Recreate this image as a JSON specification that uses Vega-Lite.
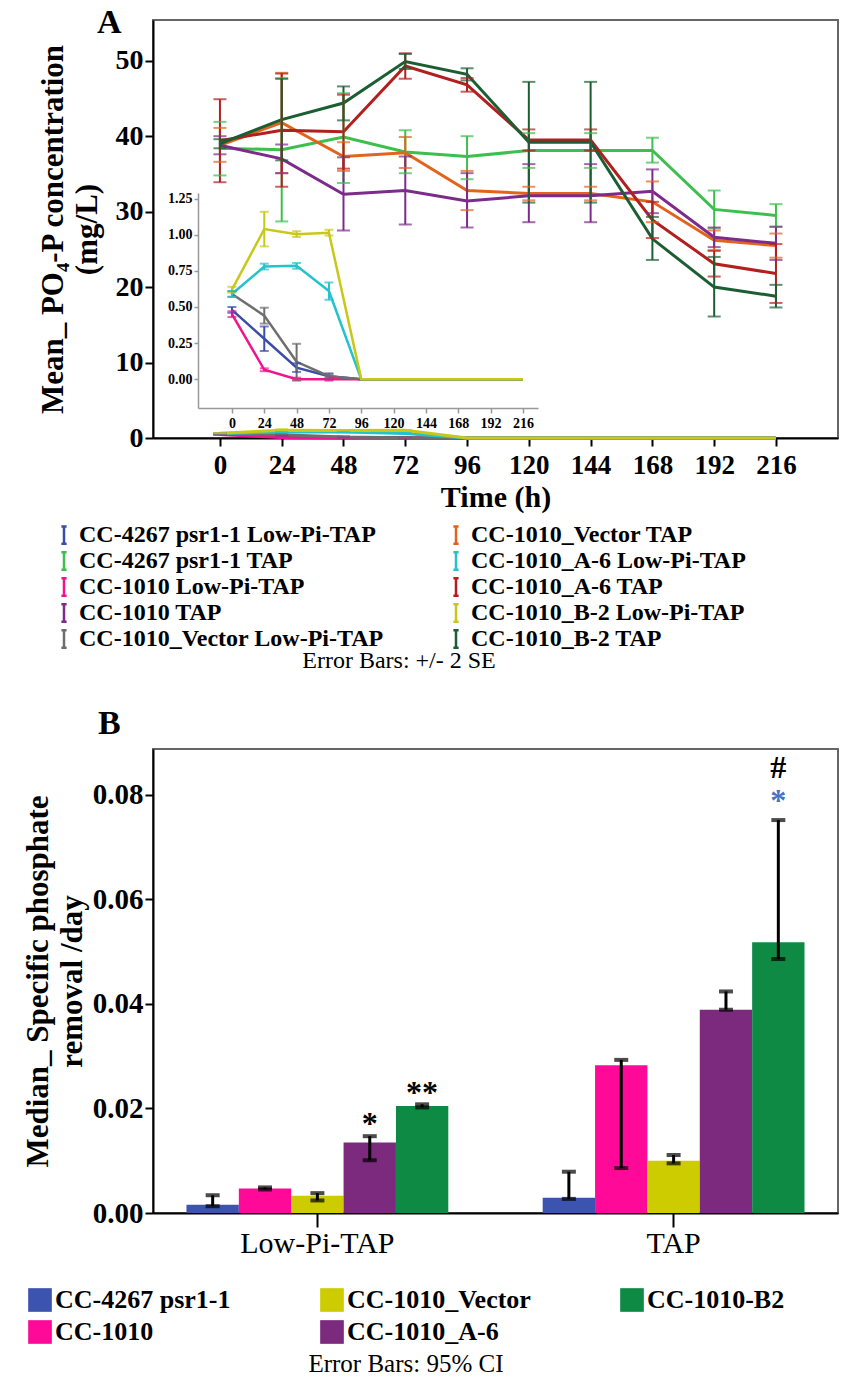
{
 "$schema": "https://vega.github.io/schema/vega-lite/v6.json",
 "background": "white",
 "padding": {"left": 21, "top": 5, "right": 2, "bottom": 2},
 "spacing": 32,
 "resolve": {"scale": {"color": "independent"}, "legend": {"color": "independent"}},
 "config": {
  "font": "Liberation Serif",
  "view": {"stroke": "#666", "strokeWidth": 2},
  "axis": {"domainColor": "#000", "domainWidth": 2, "tickColor": "#000", "tickWidth": 2, "labelColor": "#000", "titleColor": "#000", "labelFont": "Liberation Serif", "titleFont": "Liberation Serif", "grid": false},
  "legend": {"labelFont": "Liberation Serif", "titleFont": "Liberation Serif", "labelColor": "#000", "titleColor": "#000", "labelLimit": 700, "titleLimit": 800, "symbolOpacity": 1}
 },
 "datasets": {
  "ts": [
   {"s": "CC-4267 psr1-1 TAP", "g": "TAP", "t": 0, "m": 38.4, "lo": 34.8, "hi": 41.9},
   {"s": "CC-4267 psr1-1 TAP", "g": "TAP", "t": 24, "m": 38.2, "lo": 28.7, "hi": 47.7},
   {"s": "CC-4267 psr1-1 TAP", "g": "TAP", "t": 48, "m": 39.9, "lo": 33.8, "hi": 45.7},
   {"s": "CC-4267 psr1-1 TAP", "g": "TAP", "t": 72, "m": 37.9, "lo": 35.1, "hi": 40.8},
   {"s": "CC-4267 psr1-1 TAP", "g": "TAP", "t": 96, "m": 37.3, "lo": 34.3, "hi": 40.0},
   {"s": "CC-4267 psr1-1 TAP", "g": "TAP", "t": 120, "m": 38.1, "lo": 35.8, "hi": 40.4},
   {"s": "CC-4267 psr1-1 TAP", "g": "TAP", "t": 144, "m": 38.1, "lo": 35.8, "hi": 40.4},
   {"s": "CC-4267 psr1-1 TAP", "g": "TAP", "t": 168, "m": 38.1, "lo": 36.5, "hi": 39.8},
   {"s": "CC-4267 psr1-1 TAP", "g": "TAP", "t": 192, "m": 30.3, "lo": 27.8, "hi": 32.8},
   {"s": "CC-4267 psr1-1 TAP", "g": "TAP", "t": 216, "m": 29.5, "lo": 28.0, "hi": 31.0},
   {"s": "CC-1010_Vector TAP", "g": "TAP", "t": 0, "m": 38.8, "lo": 36.6, "hi": 41.1},
   {"s": "CC-1010_Vector TAP", "g": "TAP", "t": 24, "m": 41.8, "lo": 35.1, "hi": 48.4},
   {"s": "CC-1010_Vector TAP", "g": "TAP", "t": 48, "m": 37.3, "lo": 35.4, "hi": 39.2},
   {"s": "CC-1010_Vector TAP", "g": "TAP", "t": 72, "m": 37.8, "lo": 35.8, "hi": 39.9},
   {"s": "CC-1010_Vector TAP", "g": "TAP", "t": 96, "m": 32.8, "lo": 30.2, "hi": 35.4},
   {"s": "CC-1010_Vector TAP", "g": "TAP", "t": 120, "m": 32.4, "lo": 31.5, "hi": 33.3},
   {"s": "CC-1010_Vector TAP", "g": "TAP", "t": 144, "m": 32.4, "lo": 31.5, "hi": 33.3},
   {"s": "CC-1010_Vector TAP", "g": "TAP", "t": 168, "m": 31.3, "lo": 28.6, "hi": 34.0},
   {"s": "CC-1010_Vector TAP", "g": "TAP", "t": 192, "m": 26.2, "lo": 24.9, "hi": 27.5},
   {"s": "CC-1010_Vector TAP", "g": "TAP", "t": 216, "m": 25.5, "lo": 23.9, "hi": 27.1},
   {"s": "CC-1010 TAP", "g": "TAP", "t": 0, "m": 38.8, "lo": 37.6, "hi": 40.0},
   {"s": "CC-1010 TAP", "g": "TAP", "t": 24, "m": 37.0, "lo": 35.1, "hi": 38.9},
   {"s": "CC-1010 TAP", "g": "TAP", "t": 48, "m": 32.3, "lo": 27.5, "hi": 37.2},
   {"s": "CC-1010 TAP", "g": "TAP", "t": 72, "m": 32.8, "lo": 28.3, "hi": 37.3},
   {"s": "CC-1010 TAP", "g": "TAP", "t": 96, "m": 31.4, "lo": 27.9, "hi": 35.1},
   {"s": "CC-1010 TAP", "g": "TAP", "t": 120, "m": 32.1, "lo": 28.6, "hi": 36.3},
   {"s": "CC-1010 TAP", "g": "TAP", "t": 144, "m": 32.1, "lo": 28.6, "hi": 36.3},
   {"s": "CC-1010 TAP", "g": "TAP", "t": 168, "m": 32.7, "lo": 29.8, "hi": 35.6},
   {"s": "CC-1010 TAP", "g": "TAP", "t": 192, "m": 26.6, "lo": 25.3, "hi": 27.9},
   {"s": "CC-1010 TAP", "g": "TAP", "t": 216, "m": 25.8, "lo": 23.6, "hi": 28.0},
   {"s": "CC-1010_A-6 TAP", "g": "TAP", "t": 0, "m": 39.4, "lo": 33.9, "hi": 44.9},
   {"s": "CC-1010_A-6 TAP", "g": "TAP", "t": 24, "m": 40.8, "lo": 33.3, "hi": 48.3},
   {"s": "CC-1010_A-6 TAP", "g": "TAP", "t": 48, "m": 40.6, "lo": 35.7, "hi": 45.5},
   {"s": "CC-1010_A-6 TAP", "g": "TAP", "t": 72, "m": 49.3, "lo": 47.6, "hi": 51.0},
   {"s": "CC-1010_A-6 TAP", "g": "TAP", "t": 96, "m": 46.8, "lo": 45.9, "hi": 47.7},
   {"s": "CC-1010_A-6 TAP", "g": "TAP", "t": 120, "m": 39.5, "lo": 38.1, "hi": 40.9},
   {"s": "CC-1010_A-6 TAP", "g": "TAP", "t": 144, "m": 39.5, "lo": 38.1, "hi": 40.9},
   {"s": "CC-1010_A-6 TAP", "g": "TAP", "t": 168, "m": 28.9, "lo": 26.5, "hi": 31.3},
   {"s": "CC-1010_A-6 TAP", "g": "TAP", "t": 192, "m": 23.1, "lo": 21.4, "hi": 24.8},
   {"s": "CC-1010_A-6 TAP", "g": "TAP", "t": 216, "m": 21.8, "lo": 17.9, "hi": 25.7},
   {"s": "CC-1010_B-2 TAP", "g": "TAP", "t": 0, "m": 39.0, "lo": 38.4, "hi": 39.6},
   {"s": "CC-1010_B-2 TAP", "g": "TAP", "t": 24, "m": 42.2, "lo": 36.8, "hi": 47.6},
   {"s": "CC-1010_B-2 TAP", "g": "TAP", "t": 48, "m": 44.4, "lo": 42.1, "hi": 46.6},
   {"s": "CC-1010_B-2 TAP", "g": "TAP", "t": 72, "m": 49.9, "lo": 48.9, "hi": 50.9},
   {"s": "CC-1010_B-2 TAP", "g": "TAP", "t": 96, "m": 48.2, "lo": 47.4, "hi": 49.0},
   {"s": "CC-1010_B-2 TAP", "g": "TAP", "t": 120, "m": 39.2, "lo": 31.2, "hi": 47.2},
   {"s": "CC-1010_B-2 TAP", "g": "TAP", "t": 144, "m": 39.2, "lo": 31.2, "hi": 47.2},
   {"s": "CC-1010_B-2 TAP", "g": "TAP", "t": 168, "m": 26.4, "lo": 23.6, "hi": 29.3},
   {"s": "CC-1010_B-2 TAP", "g": "TAP", "t": 192, "m": 20.0, "lo": 16.1, "hi": 24.0},
   {"s": "CC-1010_B-2 TAP", "g": "TAP", "t": 216, "m": 18.8, "lo": 17.3, "hi": 20.3},
   {"s": "CC-4267 psr1-1 Low-Pi-TAP", "g": "Low", "t": 0, "m": 0.48, "lo": 0.46, "hi": 0.50},
   {"s": "CC-4267 psr1-1 Low-Pi-TAP", "g": "Low", "t": 24, "m": 0.28, "lo": 0.195, "hi": 0.365},
   {"s": "CC-4267 psr1-1 Low-Pi-TAP", "g": "Low", "t": 48, "m": 0.08, "lo": 0.05, "hi": 0.11},
   {"s": "CC-4267 psr1-1 Low-Pi-TAP", "g": "Low", "t": 72, "m": 0.02, "lo": 0.0, "hi": 0.04},
   {"s": "CC-4267 psr1-1 Low-Pi-TAP", "g": "Low", "t": 96, "m": 0, "lo": null, "hi": null},
   {"s": "CC-4267 psr1-1 Low-Pi-TAP", "g": "Low", "t": 120, "m": 0, "lo": null, "hi": null},
   {"s": "CC-4267 psr1-1 Low-Pi-TAP", "g": "Low", "t": 144, "m": 0, "lo": null, "hi": null},
   {"s": "CC-4267 psr1-1 Low-Pi-TAP", "g": "Low", "t": 168, "m": 0, "lo": null, "hi": null},
   {"s": "CC-4267 psr1-1 Low-Pi-TAP", "g": "Low", "t": 192, "m": 0, "lo": null, "hi": null},
   {"s": "CC-4267 psr1-1 Low-Pi-TAP", "g": "Low", "t": 216, "m": 0, "lo": null, "hi": null},
   {"s": "CC-1010 Low-Pi-TAP", "g": "Low", "t": 0, "m": 0.45, "lo": 0.43, "hi": 0.47},
   {"s": "CC-1010 Low-Pi-TAP", "g": "Low", "t": 24, "m": 0.065, "lo": 0.055, "hi": 0.075},
   {"s": "CC-1010 Low-Pi-TAP", "g": "Low", "t": 48, "m": 0.0, "lo": -0.01, "hi": 0.01},
   {"s": "CC-1010 Low-Pi-TAP", "g": "Low", "t": 72, "m": 0.0, "lo": -0.01, "hi": 0.01},
   {"s": "CC-1010 Low-Pi-TAP", "g": "Low", "t": 96, "m": 0, "lo": null, "hi": null},
   {"s": "CC-1010 Low-Pi-TAP", "g": "Low", "t": 120, "m": 0, "lo": null, "hi": null},
   {"s": "CC-1010 Low-Pi-TAP", "g": "Low", "t": 144, "m": 0, "lo": null, "hi": null},
   {"s": "CC-1010 Low-Pi-TAP", "g": "Low", "t": 168, "m": 0, "lo": null, "hi": null},
   {"s": "CC-1010 Low-Pi-TAP", "g": "Low", "t": 192, "m": 0, "lo": null, "hi": null},
   {"s": "CC-1010 Low-Pi-TAP", "g": "Low", "t": 216, "m": 0, "lo": null, "hi": null},
   {"s": "CC-1010_Vector Low-Pi-TAP", "g": "Low", "t": 0, "m": 0.59, "lo": 0.57, "hi": 0.61},
   {"s": "CC-1010_Vector Low-Pi-TAP", "g": "Low", "t": 24, "m": 0.44, "lo": 0.385, "hi": 0.495},
   {"s": "CC-1010_Vector Low-Pi-TAP", "g": "Low", "t": 48, "m": 0.12, "lo": -0.005, "hi": 0.245},
   {"s": "CC-1010_Vector Low-Pi-TAP", "g": "Low", "t": 72, "m": 0.02, "lo": 0.005, "hi": 0.035},
   {"s": "CC-1010_Vector Low-Pi-TAP", "g": "Low", "t": 96, "m": 0, "lo": null, "hi": null},
   {"s": "CC-1010_Vector Low-Pi-TAP", "g": "Low", "t": 120, "m": 0, "lo": null, "hi": null},
   {"s": "CC-1010_Vector Low-Pi-TAP", "g": "Low", "t": 144, "m": 0, "lo": null, "hi": null},
   {"s": "CC-1010_Vector Low-Pi-TAP", "g": "Low", "t": 168, "m": 0, "lo": null, "hi": null},
   {"s": "CC-1010_Vector Low-Pi-TAP", "g": "Low", "t": 192, "m": 0, "lo": null, "hi": null},
   {"s": "CC-1010_Vector Low-Pi-TAP", "g": "Low", "t": 216, "m": 0, "lo": null, "hi": null},
   {"s": "CC-1010_A-6 Low-Pi-TAP", "g": "Low", "t": 0, "m": 0.59, "lo": 0.57, "hi": 0.61},
   {"s": "CC-1010_A-6 Low-Pi-TAP", "g": "Low", "t": 24, "m": 0.78, "lo": 0.76, "hi": 0.80},
   {"s": "CC-1010_A-6 Low-Pi-TAP", "g": "Low", "t": 48, "m": 0.785, "lo": 0.765, "hi": 0.805},
   {"s": "CC-1010_A-6 Low-Pi-TAP", "g": "Low", "t": 72, "m": 0.61, "lo": 0.55, "hi": 0.67},
   {"s": "CC-1010_A-6 Low-Pi-TAP", "g": "Low", "t": 96, "m": 0, "lo": null, "hi": null},
   {"s": "CC-1010_A-6 Low-Pi-TAP", "g": "Low", "t": 120, "m": 0, "lo": null, "hi": null},
   {"s": "CC-1010_A-6 Low-Pi-TAP", "g": "Low", "t": 144, "m": 0, "lo": null, "hi": null},
   {"s": "CC-1010_A-6 Low-Pi-TAP", "g": "Low", "t": 168, "m": 0, "lo": null, "hi": null},
   {"s": "CC-1010_A-6 Low-Pi-TAP", "g": "Low", "t": 192, "m": 0, "lo": null, "hi": null},
   {"s": "CC-1010_A-6 Low-Pi-TAP", "g": "Low", "t": 216, "m": 0, "lo": null, "hi": null},
   {"s": "CC-1010_B-2 Low-Pi-TAP", "g": "Low", "t": 0, "m": 0.62, "lo": 0.60, "hi": 0.64},
   {"s": "CC-1010_B-2 Low-Pi-TAP", "g": "Low", "t": 24, "m": 1.04, "lo": 0.92, "hi": 1.16},
   {"s": "CC-1010_B-2 Low-Pi-TAP", "g": "Low", "t": 48, "m": 1.005, "lo": 0.985, "hi": 1.025},
   {"s": "CC-1010_B-2 Low-Pi-TAP", "g": "Low", "t": 72, "m": 1.015, "lo": 0.995, "hi": 1.035},
   {"s": "CC-1010_B-2 Low-Pi-TAP", "g": "Low", "t": 96, "m": 0, "lo": null, "hi": null},
   {"s": "CC-1010_B-2 Low-Pi-TAP", "g": "Low", "t": 120, "m": 0, "lo": null, "hi": null},
   {"s": "CC-1010_B-2 Low-Pi-TAP", "g": "Low", "t": 144, "m": 0, "lo": null, "hi": null},
   {"s": "CC-1010_B-2 Low-Pi-TAP", "g": "Low", "t": 168, "m": 0, "lo": null, "hi": null},
   {"s": "CC-1010_B-2 Low-Pi-TAP", "g": "Low", "t": 192, "m": 0, "lo": null, "hi": null},
   {"s": "CC-1010_B-2 Low-Pi-TAP", "g": "Low", "t": 216, "m": 0, "lo": null, "hi": null}
  ],
  "bars": [
   {"cond": "Low-Pi-TAP", "strain": "CC-4267 psr1-1", "med": 0.0016, "lo": 0.0013, "hi": 0.0034},
   {"cond": "Low-Pi-TAP", "strain": "CC-1010", "med": 0.0047, "lo": 0.0045, "hi": 0.0049},
   {"cond": "Low-Pi-TAP", "strain": "CC-1010_Vector", "med": 0.0033, "lo": 0.0024, "hi": 0.0038},
   {"cond": "Low-Pi-TAP", "strain": "CC-1010_A-6", "med": 0.0135, "lo": 0.0101, "hi": 0.0147},
   {"cond": "Low-Pi-TAP", "strain": "CC-1010-B2", "med": 0.0205, "lo": 0.0202, "hi": 0.0208},
   {"cond": "TAP", "strain": "CC-4267 psr1-1", "med": 0.0029, "lo": 0.0027, "hi": 0.0079},
   {"cond": "TAP", "strain": "CC-1010", "med": 0.0283, "lo": 0.0086, "hi": 0.0293},
   {"cond": "TAP", "strain": "CC-1010_Vector", "med": 0.0100, "lo": 0.0095, "hi": 0.0111},
   {"cond": "TAP", "strain": "CC-1010_A-6", "med": 0.0389, "lo": 0.0389, "hi": 0.0424},
   {"cond": "TAP", "strain": "CC-1010-B2", "med": 0.0518, "lo": 0.0486, "hi": 0.0752}
  ],
  "ann": [
   {"cond": "Low-Pi-TAP", "strain": "CC-1010_A-6", "label": "*", "pos": 0.0152, "col": "#000000"},
   {"cond": "Low-Pi-TAP", "strain": "CC-1010-B2", "label": "**", "pos": 0.0210, "col": "#000000"},
   {"cond": "TAP", "strain": "CC-1010-B2", "label": "#", "pos": 0.0833, "col": "#000000"},
   {"cond": "TAP", "strain": "CC-1010-B2", "label": "*", "pos": 0.0769, "col": "#4472C4"}
  ]
 },
 "vconcat": [
  {
   "width": 685, "height": 418,
   "title": {"text": "A", "anchor": "start", "frame": "group", "dx": -56, "offset": -20, "fontSize": 34, "fontWeight": "bold", "font": "Liberation Serif", "color": "#000"},
   "data": {"name": "ts"},
   "layer": [
    {
     "encoding": {
      "x": {"field": "t", "type": "quantitative", "scale": {"domain": [-26, 240.1], "nice": false, "zero": false},
            "axis": {"values": [0, 24, 48, 72, 96, 120, 144, 168, 192, 216], "title": "Time (h)", "labelFontSize": 27, "labelFontWeight": "bold", "titleFontSize": 30, "titleFontWeight": "bold", "tickSize": 8, "titlePadding": 4, "labelPadding": 6}},
      "color": {"field": "s", "type": "nominal",
        "scale": {"domain": ["CC-4267 psr1-1 Low-Pi-TAP", "CC-4267 psr1-1 TAP", "CC-1010 Low-Pi-TAP", "CC-1010 TAP", "CC-1010_Vector Low-Pi-TAP", "CC-1010_Vector TAP", "CC-1010_A-6 Low-Pi-TAP", "CC-1010_A-6 TAP", "CC-1010_B-2 Low-Pi-TAP", "CC-1010_B-2 TAP"],
                  "range": ["#3A4DA8", "#3CBF4C", "#F0158E", "#7D2B8B", "#6E6E6E", "#E2641C", "#23C3CB", "#B21F1F", "#C9C818", "#1B5E33"]},
        "legend": {"orient": "none", "legendX": -101, "legendY": 503, "columns": 2, "gridAlign": "each",
                   "title": "Error Bars: +/- 2 SE", "titleOrient": "bottom", "titleAnchor": "middle", "titleFontSize": 24, "titleFontWeight": "normal", "titlePadding": -4,
                   "labelFontSize": 24, "labelFontWeight": "bold", "labelOffset": 3,
                   "symbolType": "M-0.3,-1H0.3M0,-1V1M-0.3,1H0.3", "symbolSize": 300, "symbolStrokeWidth": 2.5, "symbolFillColor": "transparent", "symbolOpacity": 1,
                   "rowPadding": -4, "columnPadding": 60}}
     },
     "layer": [
      {"mark": {"type": "line", "strokeWidth": 3}, "encoding": {"y": {"field": "m", "type": "quantitative", "title": ["Mean_ PO₄-P concentration", "(mg/L)"], "scale": {"domain": [0, 55.4], "nice": false, "zero": false},
          "axis": {"values": [0, 10, 20, 30, 40, 50], "labelFontSize": 28, "labelFontWeight": "bold", "titleFontSize": 31, "titleFontWeight": "bold", "titleLineHeight": 34, "tickSize": 8, "titlePadding": 12}}}},
      {"transform": [{"filter": "datum.lo != null"}], "mark": {"type": "rule", "strokeWidth": 2}, "encoding": {"y": {"field": "lo", "type": "quantitative", "title": ["Mean_ PO₄-P concentration", "(mg/L)"]}, "y2": {"field": "hi"}}},
      {"transform": [{"filter": "datum.lo != null"}], "mark": {"type": "tick", "orient": "horizontal", "size": 13, "thickness": 2}, "encoding": {"y": {"field": "lo", "type": "quantitative", "title": ["Mean_ PO₄-P concentration", "(mg/L)"]}}},
      {"transform": [{"filter": "datum.lo != null"}], "mark": {"type": "tick", "orient": "horizontal", "size": 13, "thickness": 2}, "encoding": {"y": {"field": "hi", "type": "quantitative", "title": ["Mean_ PO₄-P concentration", "(mg/L)"]}}}
     ]
    },
    {
     "transform": [{"filter": "datum.g == 'Low'"}],
     "encoding": {
      "x": {"field": "t", "type": "quantitative", "scale": {"domain": [-25.2, 227.2], "range": [45, 385], "nice": false, "zero": false},
            "axis": {"orient": "bottom", "offset": -30, "values": [0, 24, 48, 72, 96, 120, 144, 168, 192, 216], "title": null, "labelFontSize": 14, "labelFontWeight": "bold", "tickSize": 5, "domainColor": "#999", "tickColor": "#999", "domainWidth": 1.5, "tickWidth": 1.5, "labelPadding": 3}},
      "color": {"field": "s", "type": "nominal"}
     },
     "layer": [
      {"mark": {"type": "line", "strokeWidth": 2.5}, "encoding": {"y": {"field": "m", "type": "quantitative", "title": null, "scale": {"domain": [-0.2, 1.29], "range": [388, 173], "nice": false, "zero": false},
          "axis": {"orient": "left", "offset": -45, "values": [0, 0.25, 0.5, 0.75, 1, 1.25], "format": ".2f", "labelFontSize": 14, "labelFontWeight": "bold", "tickSize": 4, "domainColor": "#999", "tickColor": "#999", "domainWidth": 1.5, "tickWidth": 1.5, "labelPadding": 2}}}},
      {"transform": [{"filter": "datum.lo != null"}], "mark": {"type": "rule", "strokeWidth": 2}, "encoding": {"y": {"field": "lo", "type": "quantitative", "title": null}, "y2": {"field": "hi"}}},
      {"transform": [{"filter": "datum.lo != null"}], "mark": {"type": "tick", "orient": "horizontal", "size": 9, "thickness": 2}, "encoding": {"y": {"field": "lo", "type": "quantitative", "title": null}}},
      {"transform": [{"filter": "datum.lo != null"}], "mark": {"type": "tick", "orient": "horizontal", "size": 9, "thickness": 2}, "encoding": {"y": {"field": "hi", "type": "quantitative", "title": null}}}
     ]
    }
   ],
   "resolve": {"scale": {"x": "independent", "y": "independent"}, "axis": {"x": "independent", "y": "independent"}}
  },
  {
   "width": 685, "height": 464,
   "title": {"text": "B", "anchor": "start", "frame": "group", "dx": -55, "offset": 8, "fontSize": 34, "fontWeight": "bold", "font": "Liberation Serif", "color": "#000"},
   "encoding": {
    "x": {"field": "cond", "type": "nominal", "sort": ["Low-Pi-TAP", "TAP"], "scale": {"paddingInner": 0.265, "paddingOuter": 0.094},
          "axis": {"title": null, "labelAngle": 0, "labelFontSize": 30, "labelFontWeight": "normal", "tickSize": 14, "labelPadding": 1}},
    "xOffset": {"field": "strain", "type": "nominal", "sort": ["CC-4267 psr1-1", "CC-1010", "CC-1010_Vector", "CC-1010_A-6", "CC-1010-B2"], "scale": {"paddingInner": 0, "paddingOuter": 0}}
   },
   "layer": [
    {"data": {"name": "bars"}, "mark": {"type": "bar"},
     "encoding": {
      "y": {"field": "med", "type": "quantitative", "title": ["Median_ Specific phosphate", "removal /day"], "scale": {"domain": [0, 0.0888], "nice": false},
            "axis": {"values": [0, 0.02, 0.04, 0.06, 0.08], "format": ".2f", "labelFontSize": 29, "labelFontWeight": "bold", "titleFontSize": 31, "titleFontWeight": "bold", "titleLineHeight": 34, "tickSize": 8, "titlePadding": 4}},
      "color": {"field": "strain", "type": "nominal",
        "scale": {"domain": ["CC-4267 psr1-1", "CC-1010_Vector", "CC-1010-B2", "CC-1010", "CC-1010_A-6"], "range": ["#3C54B0", "#CCCC00", "#0F8A45", "#FF0A98", "#7B2A7E"]},
        "legend": {"orient": "none", "legendX": -126, "legendY": 538, "columns": 3, "gridAlign": "each", "direction": "horizontal",
                   "title": "Error Bars: 95% CI", "titleOrient": "bottom", "titleAnchor": "middle", "titleFontSize": 25, "titleFontWeight": "normal", "titlePadding": 7,
                   "labelFontSize": 26, "labelFontWeight": "bold", "labelOffset": 2,
                   "symbolType": "square", "symbolSize": 560, "symbolStrokeWidth": 0, "rowPadding": 6, "columnPadding": 88}}
     }},
    {"data": {"name": "bars"}, "mark": {"type": "rule", "color": "#000", "strokeWidth": 3},
     "encoding": {"y": {"field": "lo", "type": "quantitative", "title": ["Median_ Specific phosphate", "removal /day"]}, "y2": {"field": "hi"}}},
    {"data": {"name": "bars"}, "mark": {"type": "tick", "orient": "horizontal", "color": "#000", "size": 14, "thickness": 4},
     "encoding": {"y": {"field": "lo", "type": "quantitative", "title": ["Median_ Specific phosphate", "removal /day"]}}},
    {"data": {"name": "bars"}, "mark": {"type": "tick", "orient": "horizontal", "color": "#000", "size": 14, "thickness": 4},
     "encoding": {"y": {"field": "hi", "type": "quantitative", "title": ["Median_ Specific phosphate", "removal /day"]}}},
    {"data": {"name": "ann"}, "mark": {"type": "text", "fontSize": 32, "fontWeight": "bold", "baseline": "alphabetic", "align": "center"},
     "encoding": {"y": {"field": "pos", "type": "quantitative", "title": ["Median_ Specific phosphate", "removal /day"]}, "text": {"field": "label"}, "color": {"field": "col", "type": "nominal", "scale": null}}}
   ]
  }
 ]
}
